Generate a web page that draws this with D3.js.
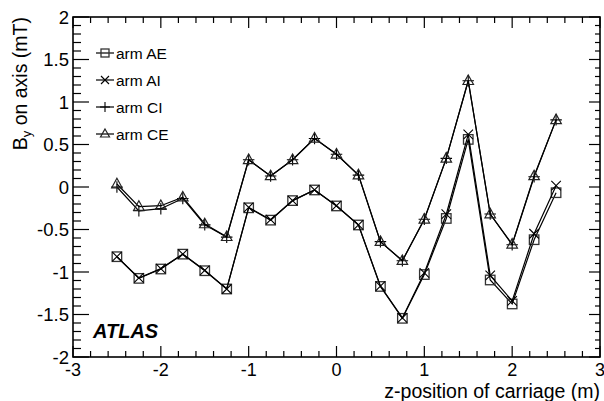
<!DOCTYPE html>
<html lang="en">
<head>
    <meta charset="UTF-8">
    <title>By on axis</title>
    <script src="https://d3js.org/d3.v7.js"></script>
    <style>
        body { margin: 0; background: #fff; }
        text { font-family: "Liberation Sans", Arial, sans-serif; fill: #000; }
    </style>
</head>
<body>
<script>
    // carriage positions (m)
    const zPos = [-2.5, -2.25, -2, -1.75, -1.5, -1.25, -1, -0.75, -0.5, -0.25, 0,
                  0.25, 0.5, 0.75, 1, 1.25, 1.5, 1.75, 2, 2.25, 2.5];
    // By on axis (mT) per arm
    const armAE = [-0.82, -1.075, -0.965, -0.79, -0.985, -1.20, -0.245, -0.39, -0.16, -0.035, -0.223,
                   -0.447, -1.17, -1.545, -1.03, -0.37, 0.56, -1.094, -1.376, -0.62, -0.067];
    const armAI = [-0.82, -1.07, -0.96, -0.79, -0.98, -1.20, -0.24, -0.385, -0.16, -0.035, -0.22,
                   -0.445, -1.165, -1.54, -1.01, -0.32, 0.62, -1.04, -1.34, -0.55, 0.015];
    const armCI = [0.0, -0.28, -0.255, -0.135, -0.445, -0.59, 0.32, 0.13, 0.32, 0.57, 0.385,
                   0.14, -0.643, -0.867, -0.38, 0.337, 1.25, -0.318, -0.68, 0.12, 0.79];
    const armCE = [0.035, -0.23, -0.22, -0.12, -0.435, -0.585, 0.32, 0.13, 0.32, 0.573, 0.385,
                   0.14, -0.643, -0.867, -0.38, 0.337, 1.25, -0.318, -0.674, 0.13, 0.79];

    const seriesNames = ["arm AE", "arm AI", "arm CI", "arm CE"];
    const seriesData = [armAE, armAI, armCI, armCE];
    const markers = ["square", "cross", "plus", "triangle"];

    const xTicks = [-3, -2, -1, 0, 1, 2, 3];
    const yTicks = [-2, -1.5, -1, -0.5, 0, 0.5, 1, 1.5, 2];

    const width = 604, height = 401;
    const padL = 73, padR = 600, padT = 17, padB = 357;

    const svg = d3.select("body").append("svg")
        .attr("width", width)
        .attr("height", height);

    const x = d3.scaleLinear().domain([-3, 3]).range([padL, padR]);
    const y = d3.scaleLinear().domain([-2, 2]).range([padB, padT]);

    // frame
    svg.append("rect")
        .attr("x", padL).attr("y", padT)
        .attr("width", padR - padL).attr("height", padB - padT)
        .attr("fill", "none").attr("stroke", "#000").attr("stroke-width", 1.6);

    // ticks on all four sides
    const xMinor = d3.range(-3, 3.001, 0.2);
    const yMinor = d3.range(-2, 2.001, 0.1);
    const isMajor = (v, step) => Math.abs(v / step - Math.round(v / step)) < 1e-6;
    const tickG = svg.append("g").attr("stroke", "#000").attr("stroke-width", 1.2);

    xMinor.forEach(v => {
        const len = isMajor(v, 1) ? 11 : 6;
        tickG.append("line").attr("x1", x(v)).attr("x2", x(v))
            .attr("y1", padB).attr("y2", padB - len);
        tickG.append("line").attr("x1", x(v)).attr("x2", x(v))
            .attr("y1", padT).attr("y2", padT + len);
    });
    yMinor.forEach(v => {
        const major = isMajor(v, 0.5);
        tickG.append("line").attr("x1", padL).attr("x2", padL + (major ? 16 : 8))
            .attr("y1", y(v)).attr("y2", y(v));
        tickG.append("line").attr("x1", padR).attr("x2", padR - (major ? 11 : 5))
            .attr("y1", y(v)).attr("y2", y(v));
    });

    // tick labels
    svg.append("g").selectAll("text")
        .data(xTicks).enter().append("text")
        .attr("x", d => x(d))
        .attr("y", 376)
        .attr("text-anchor", "middle")
        .attr("font-size", 18)
        .text(d => d);

    svg.append("g").selectAll("text")
        .data(yTicks).enter().append("text")
        .attr("x", 69)
        .attr("y", d => y(d) + 6.5)
        .attr("text-anchor", "end")
        .attr("font-size", 18.5)
        .text(d => d);

    // axis titles
    svg.append("text")
        .attr("x", padR).attr("y", 397.5)
        .attr("text-anchor", "end")
        .attr("font-size", 19.5)
        .text("z-position of carriage (m)");

    const yTitle = svg.append("text")
        .attr("transform", "translate(27," + padT + ") rotate(-90)")
        .attr("text-anchor", "end")
        .attr("font-size", 19.5);
    yTitle.append("tspan").text("B");
    yTitle.append("tspan").attr("font-size", 13).attr("dy", 4).text("y");
    yTitle.append("tspan").attr("dy", -4).text(" on axis (mT)");

    // markers
    function drawMarker(g, type, cx, cy, s) {
        const h = s / 2;
        if (type === "square") {
            g.append("rect").attr("x", cx - h).attr("y", cy - h)
                .attr("width", s).attr("height", s)
                .attr("fill", "none").attr("stroke", "#333").attr("stroke-width", 1.3);
        } else if (type === "cross") {
            g.append("path")
                .attr("d", `M${cx - h},${cy - h}L${cx + h},${cy + h}M${cx - h},${cy + h}L${cx + h},${cy - h}`)
                .attr("stroke", "#000").attr("stroke-width", 1.1);
        } else if (type === "plus") {
            g.append("path")
                .attr("d", `M${cx - h - 1},${cy}L${cx + h + 1},${cy}M${cx},${cy - h - 1}L${cx},${cy + h + 1}`)
                .attr("stroke", "#000").attr("stroke-width", 1.1);
        } else {
            g.append("path")
                .attr("d", `M${cx},${cy - h - 1}L${cx + h + 0.5},${cy + h - 1}L${cx - h - 0.5},${cy + h - 1}Z`)
                .attr("fill", "none").attr("stroke", "#222").attr("stroke-width", 1.2);
        }
    }

    const line = d3.line().x(d => x(d[0])).y(d => y(d[1]));

    seriesData.forEach((vals, i) => {
        const pts = zPos.map((z, k) => [z, vals[k]]);
        const g = svg.append("g");
        g.append("path").datum(pts)
            .attr("d", line)
            .attr("fill", "none")
            .attr("stroke", "#000")
            .attr("stroke-width", 1.2);
        pts.forEach(p => drawMarker(g, markers[i], x(p[0]), y(p[1]), 9.5));
    });

    // legend
    const legY = [53, 80, 107, 134];
    seriesNames.forEach((name, i) => {
        const g = svg.append("g");
        g.append("line").attr("x1", 96).attr("x2", 114)
            .attr("y1", legY[i]).attr("y2", legY[i])
            .attr("stroke", "#000").attr("stroke-width", 1.2);
        drawMarker(g, markers[i], 105, legY[i], 8);
        g.append("text").attr("x", 116).attr("y", legY[i] + 5.5)
            .attr("font-size", 15.5).text(name);
    });

    svg.append("text")
        .attr("x", 93).attr("y", 338)
        .attr("font-size", 20)
        .attr("font-weight", "bold")
        .attr("font-style", "italic")
        .text("ATLAS");
</script>
</body>
</html>
